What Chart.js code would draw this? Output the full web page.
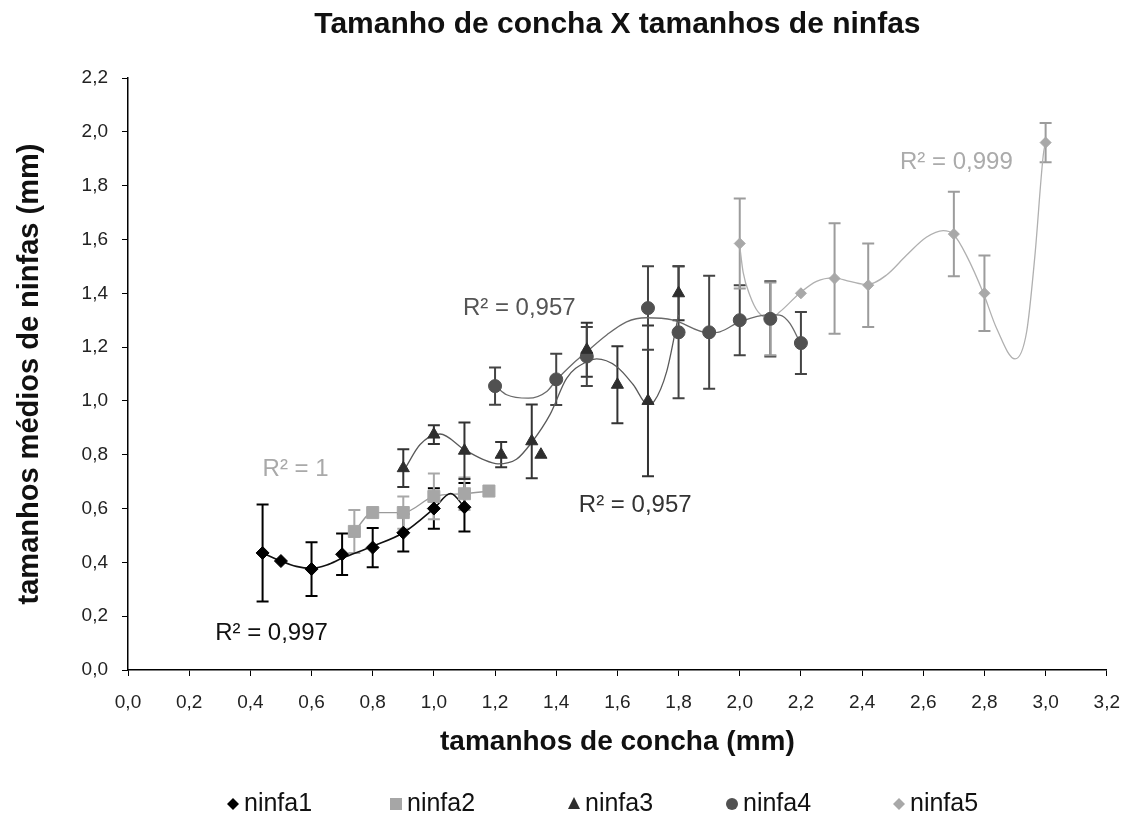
<!DOCTYPE html>
<html>
<head>
<meta charset="utf-8">
<script src="https://cdn.jsdelivr.net/npm/chart.js@4.4.1/dist/chart.umd.min.js"></script>
<style>
  html, body { margin: 0; padding: 0; background: #fff; }
  #wrap { width: 1135px; height: 816px; }
</style>
</head>
<body>
<div id="wrap"><canvas id="chart" width="1135" height="816"></canvas></div>
<script>
// ─── Data ──────────────────────────────────────────────────

const xTickValues = [0, 0.2, 0.4, 0.6, 0.8, 1.0, 1.2, 1.4, 1.6, 1.8, 2.0, 2.2, 2.4, 2.6, 2.8, 3.0, 3.2];
const yTickValues = [0, 0.2, 0.4, 0.6, 0.8, 1.0, 1.2, 1.4, 1.6, 1.8, 2.0, 2.2];

const seriesNames = ['ninfa1', 'ninfa2', 'ninfa3', 'ninfa4', 'ninfa5'];

// ninfa1
const n1X = [0.44, 0.50, 0.60, 0.70, 0.80, 0.90, 1.00, 1.10];
const n1Y = [0.435, 0.405, 0.375, 0.43, 0.455, 0.51, 0.60, 0.605];
const n1Err = [0.18, 0, 0.10, 0.077, 0.073, 0.07, 0.075, 0.09];

// ninfa2
const n2X = [0.74, 0.80, 0.90, 1.00, 1.10, 1.18];
const n2Y = [0.515, 0.585, 0.585, 0.645, 0.655, 0.665];
const n2Err = [0.08, 0, 0.06, 0.085, 0.06, 0];

// ninfa3
const n3X = [0.90, 1.00, 1.10, 1.22, 1.32, 1.35, 1.50, 1.60, 1.70, 1.80];
const n3Y = [0.75, 0.875, 0.815, 0.80, 0.85, 0.80, 1.19, 1.06, 1.00, 1.40];
const n3Err = [0.07, 0.035, 0.105, 0.047, 0.137, 0, 0.10, 0.143, 0.28, 0.10];

// ninfa4
const n4X = [1.20, 1.40, 1.50, 1.70, 1.80, 1.90, 2.00, 2.10, 2.20];
const n4Y = [1.055, 1.08, 1.165, 1.345, 1.255, 1.255, 1.30, 1.305, 1.215];
const n4Err = [0.069, 0.095, 0.11, 0.155, 0.245, 0.21, 0.13, 0.14, 0.115];

// ninfa5
const n5X = [2.00, 2.10, 2.20, 2.31, 2.42, 2.70, 2.80, 3.00];
const n5Y = [1.585, 1.305, 1.40, 1.455, 1.43, 1.62, 1.40, 1.96];
const n5Err = [0.167, 0.135, 0, 0.205, 0.155, 0.157, 0.14, 0.073];

// trend curves as traced on the reference
const t1X = [0.44, 0.50, 0.55, 0.60, 0.65, 0.70, 0.80, 0.90, 1.00, 1.055, 1.10];
const t1Y = [0.435, 0.405, 0.385, 0.378, 0.39, 0.415, 0.46, 0.51, 0.60, 0.656, 0.605];

const t3X = [0.906, 0.955, 1.02, 1.10, 1.16, 1.21, 1.27, 1.32, 1.38, 1.434, 1.50, 1.532, 1.597, 1.652, 1.70, 1.72, 1.761, 1.80];
const t3Y = [0.749, 0.838, 0.877, 0.819, 0.783, 0.766, 0.783, 0.846, 0.95, 1.084, 1.146, 1.156, 1.128, 1.06, 0.986, 0.998, 1.109, 1.32];

const t4X = [1.203, 1.238, 1.309, 1.369, 1.401, 1.456, 1.50, 1.565, 1.63, 1.695, 1.783, 1.897, 1.935, 2.0, 2.099, 2.131, 2.164, 2.197];
const t4Y = [1.054, 1.023, 1.010, 1.035, 1.078, 1.14, 1.183, 1.245, 1.294, 1.309, 1.30, 1.253, 1.257, 1.294, 1.321, 1.319, 1.288, 1.217];

const t5X = [2.0, 2.011, 2.033, 2.06, 2.099, 2.131, 2.197, 2.251, 2.306, 2.36, 2.417, 2.479, 2.545, 2.61, 2.665, 2.698, 2.741, 2.796, 2.84, 2.90, 2.938, 2.965, 2.992, 3.0];
const t5Y = [1.575, 1.479, 1.393, 1.331, 1.306, 1.331, 1.401, 1.444, 1.457, 1.444, 1.432, 1.467, 1.541, 1.608, 1.633, 1.62, 1.541, 1.402, 1.269, 1.156, 1.257, 1.54, 1.91, 1.965];

// R² labels: text + anchor in data units
const r2Texts = ['R² = 0,997', 'R² = 1', 'R² = 0,957', 'R² = 0,957', 'R² = 0,999'];
const r2X = [0.285, 0.44, 1.095, 1.474, 2.524];
const r2Y = [0.137, 0.747, 1.345, 0.61, 1.885];
const r2Colors = ['#111', '#a9a9a9', '#555', '#333', '#ababab'];

// ─── Styling ─────────────────────────

const FONT = "'Liberation Sans', Arial, Helvetica, sans-serif";
Chart.defaults.font.family = FONT;
Chart.defaults.color = '#1a1a1a';

const markerColors = ['#000000', '#a6a6a6', '#2e2e2e', '#515151', '#a8a8a8'];
const markerStyles = ['rectRot', 'rect', 'triangle', 'circle', 'rectRot'];
const markerRadius = [6.5, 8.5, 7, 6.5, 5.5];
const errColors = ['#000000', '#a8a8a8', '#333333', '#444444', '#9c9c9c'];
const curveColors = ['#111111', '#9a9a9a', '#5a5a5a', '#6a6a6a', '#b0b0b0'];

const pts = (xs, ys) => xs.map((x, i) => ({ x, y: ys[i] }));

const markerSets = [
  [n1X, n1Y, n1Err], [n2X, n2Y, n2Err], [n3X, n3Y, n3Err], [n4X, n4Y, n4Err], [n5X, n5Y, n5Err],
].map(([xs, ys, err], i) => ({
  label: seriesNames[i],
  data: pts(xs, ys),
  errors: err,
  errorColor: errColors[i],
  showLine: false,
  pointStyle: markerStyles[i],
  pointRadius: markerRadius[i],
  pointBackgroundColor: markerColors[i],
  pointBorderColor: markerColors[i],
  pointBorderWidth: 1,
  order: 0,
}));

const curveSets = [
  [t1X, t1Y, 0], [n2X, n2Y, 1], [t3X, t3Y, 2], [t4X, t4Y, 3], [t5X, t5Y, 4],
].map(([xs, ys, i]) => ({
  label: 'trend ' + seriesNames[i],
  data: pts(xs, ys),
  showLine: true,
  borderColor: curveColors[i],
  borderWidth: i === 0 ? 1.6 : 1.3,
  pointRadius: 0,
  cubicInterpolationMode: 'monotone',
  order: 10,
}));

// ─── Plugins ─────────────────────────

const whiteBg = {
  id: 'whiteBg',
  beforeDraw(chart) {
    const { ctx, width, height } = chart;
    ctx.save();
    ctx.fillStyle = '#fff';
    ctx.fillRect(0, 0, width, height);
    ctx.restore();
  },
};

const errorBars = {
  id: 'errorBars',
  beforeDatasetsDraw(chart) {
    const { ctx, scales: { x, y } } = chart;
    ctx.save();
    ctx.lineWidth = 2;
    chart.data.datasets.forEach(ds => {
      if (!ds.errors) return;
      ctx.strokeStyle = ds.errorColor;
      ds.data.forEach((p, j) => {
        const e = ds.errors[j];
        if (!e) return;
        const px = x.getPixelForValue(p.x);
        const yTop = y.getPixelForValue(p.y + e);
        const yBot = y.getPixelForValue(p.y - e);
        ctx.beginPath();
        ctx.moveTo(px, yTop); ctx.lineTo(px, yBot);
        ctx.moveTo(px - 6, yTop); ctx.lineTo(px + 6, yTop);
        ctx.moveTo(px - 6, yBot); ctx.lineTo(px + 6, yBot);
        ctx.stroke();
      });
    });
    ctx.restore();
  },
};

const r2Labels = {
  id: 'r2Labels',
  afterDatasetsDraw(chart) {
    const { ctx, scales: { x, y } } = chart;
    ctx.save();
    ctx.font = `24px ${FONT}`;
    ctx.textAlign = 'left';
    ctx.textBaseline = 'middle';
    r2Texts.forEach((t, i) => {
      ctx.fillStyle = r2Colors[i];
      ctx.fillText(t, x.getPixelForValue(r2X[i]), y.getPixelForValue(r2Y[i]));
    });
    ctx.restore();
  },
};

// custom bottom legend, items spread like the original
const legendMarkX = [233, 396, 574, 732, 899];
const bottomLegend = {
  id: 'bottomLegend',
  afterDraw(chart) {
    const { ctx } = chart;
    const cy = 804;
    ctx.save();
    ctx.font = `25px ${FONT}`;
    ctx.textBaseline = 'middle';
    ctx.textAlign = 'left';
    seriesNames.forEach((name, i) => {
      const cx = legendMarkX[i];
      ctx.fillStyle = markerColors[i];
      ctx.beginPath();
      const st = markerStyles[i];
      if (st === 'rectRot') {
        const r = 6;
        ctx.moveTo(cx - r, cy); ctx.lineTo(cx, cy - r); ctx.lineTo(cx + r, cy); ctx.lineTo(cx, cy + r);
      } else if (st === 'rect') {
        ctx.rect(cx - 6, cy - 6, 12, 12);
      } else if (st === 'triangle') {
        ctx.moveTo(cx, cy - 7); ctx.lineTo(cx + 6, cy + 5); ctx.lineTo(cx - 6, cy + 5);
      } else {
        ctx.arc(cx, cy, 6, 0, Math.PI * 2);
      }
      ctx.closePath();
      ctx.fill();
      ctx.fillStyle = '#111';
      ctx.fillText(name, cx + 11, cy);
    });
    ctx.restore();
  },
};

// ─── Chart ─────────────────────────

const fmt = v => Number(v).toFixed(1).replace('.', ',');

new Chart(document.getElementById('chart'), {
  type: 'scatter',
  data: { datasets: [...markerSets, ...curveSets] },
  plugins: [whiteBg, errorBars, r2Labels, bottomLegend],
  options: {
    responsive: false,
    animation: false,
    layout: { padding: { left: 0, right: 28, top: 0, bottom: 46 } },
    plugins: {
      legend: { display: false },
      tooltip: { enabled: false },
      title: {
        display: true,
        text: 'Tamanho de concha X tamanhos de ninfas',
        fullSize: false,
        color: '#111',
        font: { size: 30, weight: 'bold' },
        padding: { top: 7, bottom: 35 },
      },
    },
    scales: {
      x: {
        type: 'linear',
        min: 0,
        max: 3.2,
        afterBuildTicks: s => { s.ticks = xTickValues.map(v => ({ value: v })); },
        afterFit: s => { s.height = 100; },
        grid: { drawOnChartArea: false, drawTicks: true, tickLength: 6, color: '#000' },
        border: { display: true, color: '#000', width: 1.5 },
        ticks: { callback: fmt, font: { size: 19 }, color: '#222', padding: 15, maxRotation: 0, autoSkip: false },
        title: {
          display: true,
          text: 'tamanhos de concha (mm)',
          color: '#111',
          font: { size: 28, weight: 'bold' },
          padding: { top: 0, bottom: 11 },
        },
      },
      y: {
        type: 'linear',
        min: 0,
        max: 2.2,
        afterBuildTicks: s => { s.ticks = yTickValues.map(v => ({ value: v })); },
        afterFit: s => { s.width = 128; },
        grid: { drawOnChartArea: false, drawTicks: true, tickLength: 6, color: '#000' },
        border: { display: true, color: '#000', width: 1.5 },
        ticks: { callback: fmt, font: { size: 19 }, color: '#222', padding: 14, autoSkip: false },
        title: {
          display: true,
          text: 'tamanhos médios de ninfas (mm)',
          color: '#111',
          font: { size: 29, weight: 'bold' },
          padding: { top: 13, bottom: 0 },
        },
      },
    },
  },
});
</script>
</body>
</html>
